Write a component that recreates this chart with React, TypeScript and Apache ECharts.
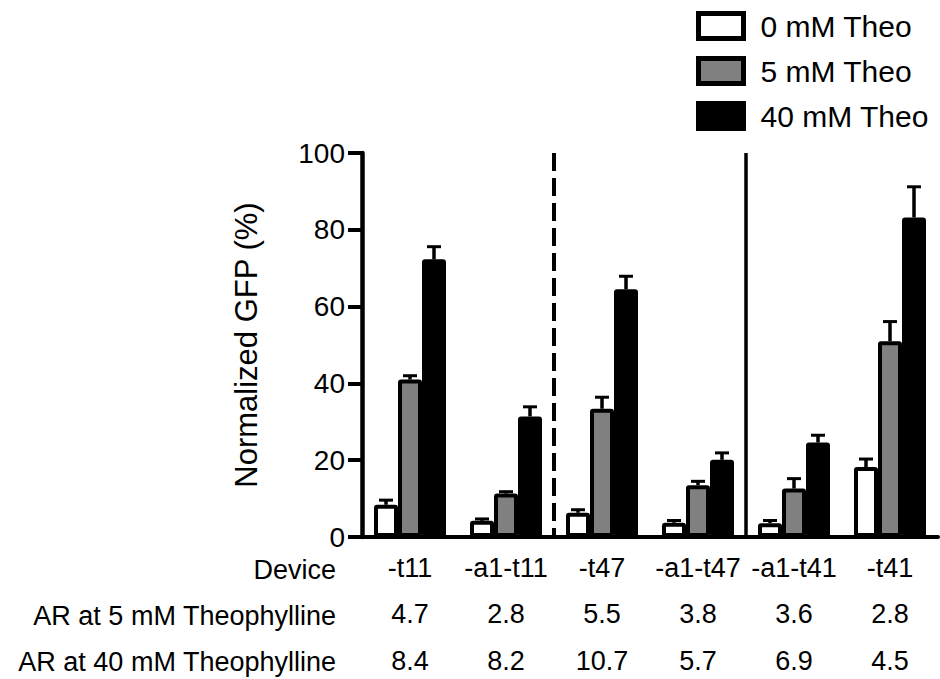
import React, { useEffect, useRef } from "react";
import * as echarts from "echarts";

const categories = ["-t11", "-a1-t11", "-t47", "-a1-t47", "-a1-t41", "-t41"];
const seriesNames = ["0 mM Theo", "5 mM Theo", "40 mM Theo"];
const theo0 = [8.4, 4.2, 6.3, 3.7, 3.6, 18.2];
const theo0Err = [1.2, 0.5, 0.8, 0.6, 0.7, 2.1];
const theo5 = [41.0, 11.3, 33.4, 13.5, 12.6, 51.0];
const theo5Err = [1.0, 0.5, 3.0, 1.0, 2.6, 5.1];
const theo40 = [72.3, 31.4, 64.5, 20.1, 24.6, 83.2];
const theo40Err = [3.3, 2.5, 3.4, 1.8, 1.9, 8.0];
const ar5 = ["4.7", "2.8", "5.5", "3.8", "3.6", "2.8"];
const ar40 = ["8.4", "8.2", "10.7", "5.7", "6.9", "4.5"];
const rowLabels = ["Device", "AR at 5 mM Theophylline", "AR at 40 mM Theophylline"];
const yTicks = [0, 20, 40, 60, 80, 100];
// separator after category index (between index and index+1); 1 = dashed
const separatorAfter = [1, 3];
const separatorDashed = [1, 0];

const FONT = "Liberation Sans, Arial, Helvetica, sans-serif";
const BAR_W = 24;
const fills = ["#ffffff", "#808080", "#000000"];

export default function App() {
  const ref = useRef<HTMLDivElement>(null);
  useEffect(() => {
    if (!ref.current) return;
    const chart = echarts.init(ref.current, undefined, { renderer: "svg" });
    const values = [theo0, theo5, theo40];
    const errs = [theo0Err, theo5Err, theo40Err];

    const barSeries = values.map((vals, si) => ({
      type: "bar",
      name: seriesNames[si],
      data: vals,
      barWidth: BAR_W,
      barGap: "0%",
      itemStyle: {
        color: fills[si],
        borderColor: "#000",
        borderWidth: 4,
        borderRadius: 1,
      },
      z: 2,
    }));

    const errSeries = values.map((vals, si) => ({
      type: "custom",
      name: seriesNames[si] + " err",
      data: vals.map((v, i) => [i, v, v + errs[si][i]]),
      encode: { x: 0, y: [1, 2] },
      z: 3,
      renderItem: (params: any, api: any) => {
        const base = api.coord([api.value(0), api.value(1)]);
        const top = api.coord([api.value(0), api.value(2)]);
        const x = base[0] + (si - 1) * BAR_W;
        return {
          type: "group",
          children: [
            {
              type: "line",
              shape: { x1: x, y1: base[1], x2: x, y2: top[1] },
              style: { stroke: "#000", lineWidth: 3.5 },
            },
            {
              type: "line",
              shape: { x1: x - 7, y1: top[1], x2: x + 7, y2: top[1] },
              style: { stroke: "#000", lineWidth: 3 },
            },
          ],
        };
      },
    }));

    const sepSeries = {
      type: "custom",
      name: "separators",
      data: separatorAfter.map((a, i) => [a, separatorDashed[i]]),
      encode: { x: 0 },
      z: 4,
      renderItem: (params: any, api: any) => {
        const c = api.coord([api.value(0), 0]);
        const bw = api.size([1, 0])[0];
        const x = c[0] + bw / 2;
        const y0 = api.coord([0, 0])[1];
        const y1 = api.coord([0, 100])[1];
        const dashed = api.value(1) === 1;
        return {
          type: "line",
          shape: { x1: x, y1: y1, x2: x, y2: y0 },
          style: {
            stroke: "#000",
            lineWidth: dashed ? 4 : 3.5,
            lineDash: dashed ? [18, 7] : null,
          },
        };
      },
    };

    const option: any = {
      animation: false,
      backgroundColor: "#fff",
      grid: {
        left: 362,
        right: 2,
        top: 153,
        bottom: 142,
        containLabel: false,
        outerBoundsMode: "none",
      },
      legend: {
        data: seriesNames.map((n, i) => ({
          name: n,
          icon: "rect",
          itemStyle: { color: fills[i], borderColor: "#000", borderWidth: 5 },
        })),
        orient: "vertical",
        left: 693,
        top: 8,
        itemWidth: 45,
        itemHeight: 25,
        itemGap: 15,
        padding: 3,
        selectedMode: false,
        textStyle: {
          fontFamily: FONT,
          fontSize: 30,
          color: "#000",
          padding: [0, 0, 0, 12],
        },
      },
      xAxis: {
        type: "category",
        data: categories,
        axisLine: { lineStyle: { color: "#000", width: 4 } },
        axisTick: {
          alignWithLabel: true,
          length: 11,
          lineStyle: { color: "#000", width: 4 },
        },
        axisLabel: {
          interval: 0,
          margin: 8,
          fontFamily: FONT,
          fontSize: 27,
          color: "#000",
          lineHeight: 46.3,
          formatter: (v: string, idx: number) => `${v}\n${ar5[idx]}\n${ar40[idx]}`,
        },
        splitLine: { show: false },
      },
      yAxis: {
        type: "value",
        min: yTicks[0],
        max: yTicks[yTicks.length - 1],
        interval: 20,
        name: "Normalized GFP (%)",
        nameLocation: "middle",
        nameRotate: 90,
        nameGap: 100,
        nameTextStyle: { fontFamily: FONT, fontSize: 31, color: "#000" },
        axisLine: { show: true, lineStyle: { color: "#000", width: 4.5 } },
        axisTick: { show: true, length: 14, lineStyle: { color: "#000", width: 4 } },
        axisLabel: {
          margin: 17,
          fontFamily: FONT,
          fontSize: 28,
          color: "#000",
        },
        splitLine: { show: false },
      },
      graphic: rowLabels.map((t, i) => ({
        type: "text",
        right: 940 - 336,
        top: 556 + i * 46.3,
        style: {
          text: t,
          fontFamily: FONT,
          fontSize: 27,
          fill: "#000",
          textAlign: "right",
        },
      })),
      series: [...barSeries, ...errSeries, sepSeries],
    };
    chart.setOption(option);
    return () => chart.dispose();
  }, []);
  return (
    <div
      ref={ref}
      style={{ position: "fixed", left: 0, top: 0, width: 940, height: 679, background: "#fff" }}
    />
  );
}
